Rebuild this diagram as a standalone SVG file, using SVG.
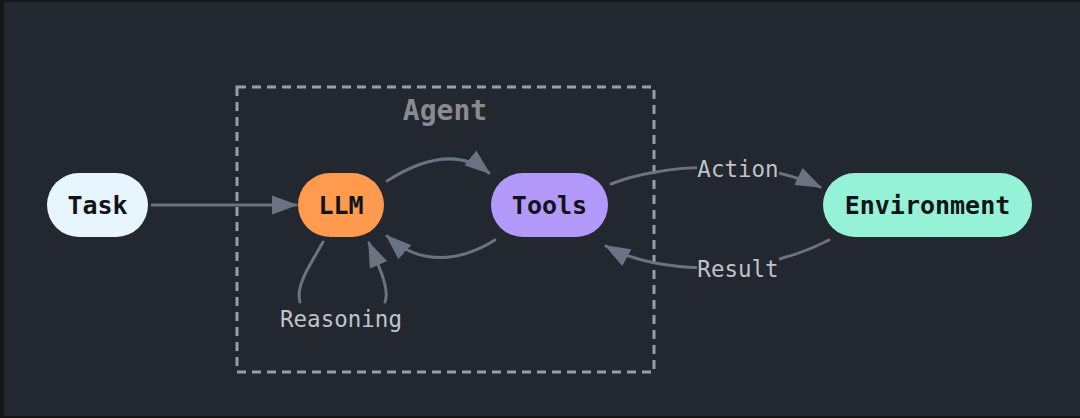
<svg xmlns="http://www.w3.org/2000/svg" width="1080" height="418" viewBox="0 0 1080 418">
<defs>
<style>
.node-text{font-family:"DejaVu Sans Mono","Liberation Mono",monospace;font-weight:bold;font-size:25px;fill:#111418;text-anchor:middle;dominant-baseline:central}
.lbl{font-family:"DejaVu Sans Mono","Liberation Mono",monospace;font-size:22.5px;fill:#bfc3ca;text-anchor:middle;dominant-baseline:central}
.edge{fill:none;stroke:#6b7282;stroke-width:3;stroke-linecap:round}
</style>
<marker id="arr" markerUnits="userSpaceOnUse" markerWidth="26" markerHeight="20" viewBox="0 0 26 20" refX="24" refY="10" orient="auto">
<path d="M0,0.5 L26,10 L0,19.5 z" fill="#6b7282"/>
</marker>
</defs>
<rect x="0" y="0" width="1080" height="418" fill="#161616"/>
<rect x="4" y="2" width="1076" height="414" fill="#23272f"/>
<g id="agent-boundary">
<rect x="237" y="87" width="417" height="285" fill="none" stroke="#9a9da3" stroke-width="3" stroke-dasharray="9,6"/>
<text x="445" y="110" style="font-family:'DejaVu Sans Mono','Liberation Mono',monospace;font-weight:bold;font-size:28px;fill:#888b90;text-anchor:middle;dominant-baseline:central">Agent</text>
</g>
<g id="connectors">
<path class="edge" d="M152,205 L296,205" marker-end="url(#arr)"/>
<path class="edge" d="M387,181 C420,160 458,148 489,173" marker-end="url(#arr)"/>
<path class="edge" d="M495,240 C460,262 420,266 387,236" marker-end="url(#arr)"/>
<path class="edge" d="M323,242 C312,262 295,285 300,302"/>
<path class="edge" d="M385,302 C390,290 379,266 369,243" marker-end="url(#arr)"/>
<path class="edge" d="M611,184 C660,164 760,158 820,187" marker-end="url(#arr)"/>
<path class="edge" d="M829,240 C760,276 660,276 606,246" marker-end="url(#arr)"/>
<rect x="697" y="157" width="82" height="26" fill="#23272f"/>
<text class="lbl" x="738" y="169">Action</text>
<rect x="697" y="257" width="82" height="26" fill="#23272f"/>
<text class="lbl" x="738" y="269">Result</text>
<text class="lbl" x="341" y="319">Reasoning</text>
</g>
<g id="task">
<rect x="47" y="173" width="101" height="64" rx="32" fill="#e7f5ff"/>
<text class="node-text" x="97.5" y="205">Task</text>
</g>
<g id="llm">
<rect x="298" y="173" width="86" height="64" rx="32" fill="#ff9a4f"/>
<text class="node-text" x="341" y="205">LLM</text>
</g>
<g id="tools">
<rect x="491" y="173" width="117" height="64" rx="32" fill="#b39afa"/>
<text class="node-text" x="549.5" y="205">Tools</text>
</g>
<g id="environment">
<rect x="823" y="173" width="209" height="64" rx="32" fill="#96f2d7"/>
<text class="node-text" x="927.5" y="205">Environment</text>
</g>
</svg>
